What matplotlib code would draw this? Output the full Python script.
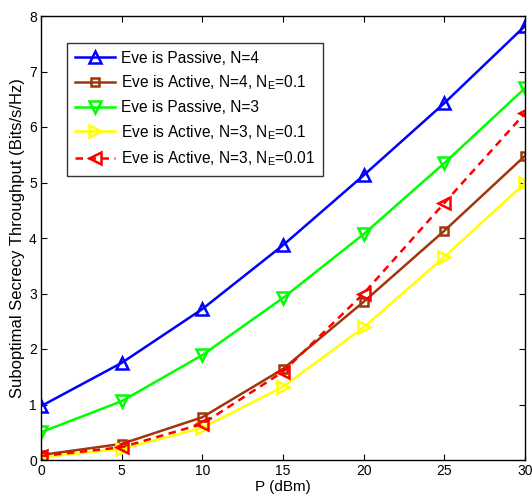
import matplotlib

matplotlib.use("Agg")
import matplotlib.pyplot as plt

plt.rcParams.update({
    "font.family": ["Liberation Sans", "DejaVu Sans"],
    "mathtext.fontset": "custom",
    "mathtext.rm": "Liberation Sans",
    "mathtext.it": "Liberation Sans",
    "font.size": 11.5,
    "xtick.labelsize": 10,
    "ytick.labelsize": 10,
    "xtick.direction": "in",
    "ytick.direction": "in",
    "xtick.top": True,
    "ytick.right": True,
    "axes.linewidth": 1.0,
})

# transmit power (dBm) and throughput curves (bits/s/Hz)
P_DBM = [0, 5, 10, 15, 20, 25, 30]
PASSIVE_N4 = [0.97, 1.75, 2.72, 3.87, 5.13, 6.43, 7.82]
ACTIVE_N4_01 = [0.09, 0.29, 0.77, 1.64, 2.85, 4.13, 5.48]
PASSIVE_N3 = [0.50, 1.06, 1.89, 2.92, 4.07, 5.35, 6.70]
ACTIVE_N3_01 = [0.05, 0.20, 0.58, 1.32, 2.39, 3.66, 4.99]
ACTIVE_N3_001 = [0.07, 0.23, 0.65, 1.59, 3.00, 4.63, 6.25]

fig = plt.figure(figsize=(5.32, 4.99), dpi=100)
ax = fig.add_axes([41 / 532, 1 - 460 / 499, (525 - 41) / 532, (460 - 16) / 499])

lw = 1.8
mk = dict(mfc="none", mew=1.8)
ax.plot(P_DBM, PASSIVE_N4, color="#0000FF", lw=lw, marker="^", ms=9,
        label="Eve is Passive, N=4", **mk)
ax.plot(P_DBM, ACTIVE_N4_01, color="#A0360A", lw=lw, marker="s", ms=6,
        label="Eve is Active, N=4, N$_E$=0.1", **mk)
ax.plot(P_DBM, PASSIVE_N3, color="#00FF00", lw=lw, marker="v", ms=9,
        label="Eve is Passive, N=3", **mk)
ax.plot(P_DBM, ACTIVE_N3_01, color="#FFFF00", lw=lw, marker=">", ms=9,
        label="Eve is Active, N=3, N$_E$=0.1", **mk)
ax.plot(P_DBM, ACTIVE_N3_001, color="#FF0000", lw=lw, ls=(0, (3, 2.2)),
        marker="<", ms=9, label="Eve is Active, N=3, N$_E$=0.01", **mk)

ax.set_xlim(0, 30)
ax.set_ylim(0, 8)
ax.set_xticks([0, 5, 10, 15, 20, 25, 30])
ax.set_yticks(range(9))
ax.tick_params(length=4, width=0.8, pad=3)
ax.set_xlabel("P (dBm)", fontsize=11, labelpad=1)
ax.set_ylabel("Suboptimal Secrecy Throughput (Bits/s/Hz)", fontsize=12,
              labelpad=3)

leg = ax.legend(loc="upper left", bbox_to_anchor=(26 / 484, 1 - 27 / 444),
                frameon=True, fancybox=False, edgecolor="black",
                handlelength=2.6, handletextpad=0.35, borderpad=0.5,
                labelspacing=0.5, borderaxespad=0, fontsize=11.2)
leg.get_frame().set_linewidth(1.0)

fig.savefig("out.png", dpi=100)
